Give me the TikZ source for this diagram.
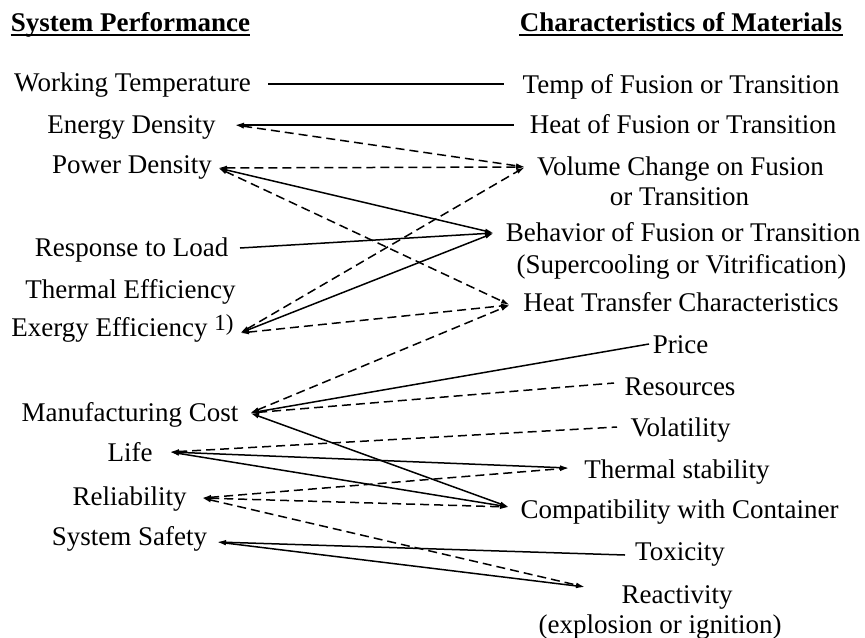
\documentclass[tikz,border=0pt]{standalone}
\usepackage{fontspec}
\setmainfont{Liberation Serif}
\usetikzlibrary{arrows.meta}
\begin{document}
\begin{tikzpicture}[x=0.5pt,y=-0.5pt,
  lbl/.style={font=\fontsize{13.5}{16}\selectfont, inner sep=0pt, anchor=base},
  hd/.style={font=\fontsize{13.5}{16}\selectfont\bfseries, inner sep=0pt, anchor=base},
  ln/.style={line width=0.75pt},
  dsh/.style={dash pattern=on 4.5pt off 2.5pt},
  >={Latex[length=4.5pt,width=2.4pt]}]
\useasboundingbox (0,0) rectangle (865,637);

% headings
\node[hd] (sp) at (130.5,31) {System Performance};
\node[hd] (cm) at (681,31) {Characteristics of Materials};
\draw[line width=0.9pt] ([yshift=-1.8pt]sp.base west) -- ([yshift=-1.8pt]sp.base east);
\draw[line width=0.9pt] ([yshift=-1.8pt]cm.base west) -- ([yshift=-1.8pt]cm.base east);

% left column
\node[lbl] (wt) at (132.5,91) {Working Temperature};
\node[lbl] (ed) at (131.5,133) {Energy Density};
\node[lbl] (pd) at (132,173) {Power Density};
\node[lbl] (rl) at (131.5,256) {Response to Load};
\node[lbl] (te) at (130.5,298) {Thermal Efficiency};
\node[lbl] (ex) at (122.5,336) {Exergy Efficiency {\fontsize{11.5}{12}\selectfont\raisebox{3pt}{1)}}};
\node[lbl] (mc) at (130,421) {Manufacturing Cost};
\node[lbl] (li) at (130,461) {Life};
\node[lbl] (re) at (129.5,505) {Reliability};
\node[lbl] (ss) at (129.5,545) {System Safety};

% right column
\node[lbl] (tf) at (681,93) {Temp of Fusion or Transition};
\node[lbl] (hf) at (683,133) {Heat of Fusion or Transition};
\node[lbl] (vc) at (680.5,175) {Volume Change on Fusion};
\node[lbl] (vc2) at (679.5,205) {or Transition};
\node[lbl] (bh) at (683,241) {Behavior of Fusion or Transition};
\node[lbl] (bh2) at (681.5,273) {(Supercooling or Vitrification)};
\node[lbl] (ht) at (681,311) {Heat Transfer Characteristics};
\node[lbl] (pr) at (680.5,353) {Price};
\node[lbl] (rs) at (680,395) {Resources};
\node[lbl] (vo) at (680.5,436) {Volatility};
\node[lbl] (ts) at (677,478) {Thermal stability};
\node[lbl] (cp) at (679.5,518) {Compatibility with Container};
\node[lbl] (tx) at (680,560) {Toxicity};
\node[lbl] (rc) at (677,603) {Reactivity};
\node[lbl] (rc2) at (660,633) {(explosion or ignition)};

% connector end points
\coordinate (wtE) at (268,84);
\coordinate (edE) at (235,125);
\coordinate (pdE) at (218,168);
\coordinate (rlE) at (240,248);
\coordinate (exE) at (240,333);
\coordinate (mcE) at (250,413);
\coordinate (liE) at (170,452);
\coordinate (reE) at (202,498);
\coordinate (ssE) at (217,542);

\coordinate (tfW) at (504,84);
\coordinate (hfW) at (514,125);
\coordinate (vcW) at (525,167);
\coordinate (bhW) at (494,233);
\coordinate (htW) at (510,305);
\coordinate (prW) at (649,344);
\coordinate (rsW) at (614,383);
\coordinate (voW) at (617,427);
\coordinate (tsW) at (569,468);
\coordinate (cpW) at (509,507);
\coordinate (txW) at (625,555);
\coordinate (rcW) at (585,587);

% connectors
\draw[ln] (wtE) -- (tfW);
\draw[ln,<-] (edE) -- (hfW);
\draw[ln,dsh,<->] (edE) -- (vcW);
\draw[ln,dsh,<->] (pdE) -- (vcW);
\draw[ln,<->] (pdE) -- (bhW);
\draw[ln,dsh,<->] (pdE) -- (htW);
\draw[ln,->] (rlE) -- (bhW);
\draw[ln,dsh,<->] (exE) -- (vcW);
\draw[ln,<->] (exE) -- (bhW);
\draw[ln,dsh,<->] (exE) -- (htW);
\draw[ln,dsh,<->] (mcE) -- (htW);
\draw[ln,<-] (mcE) -- (prW);
\draw[ln,dsh,<-] (mcE) -- (rsW);
\draw[ln,<->] (mcE) -- (cpW);
\draw[ln,dsh,<-] (liE) -- (voW);
\draw[ln,<->] (liE) -- (tsW);
\draw[ln,<->] (liE) -- (cpW);
\draw[ln,dsh,<->] (reE) -- (tsW);
\draw[ln,dsh,<->] (reE) -- (cpW);
\draw[ln,dsh,<->] (reE) -- (rcW);
\draw[ln,<-] (ssE) -- (txW);
\draw[ln,<->] (ssE) -- (rcW);
\end{tikzpicture}
\end{document}
